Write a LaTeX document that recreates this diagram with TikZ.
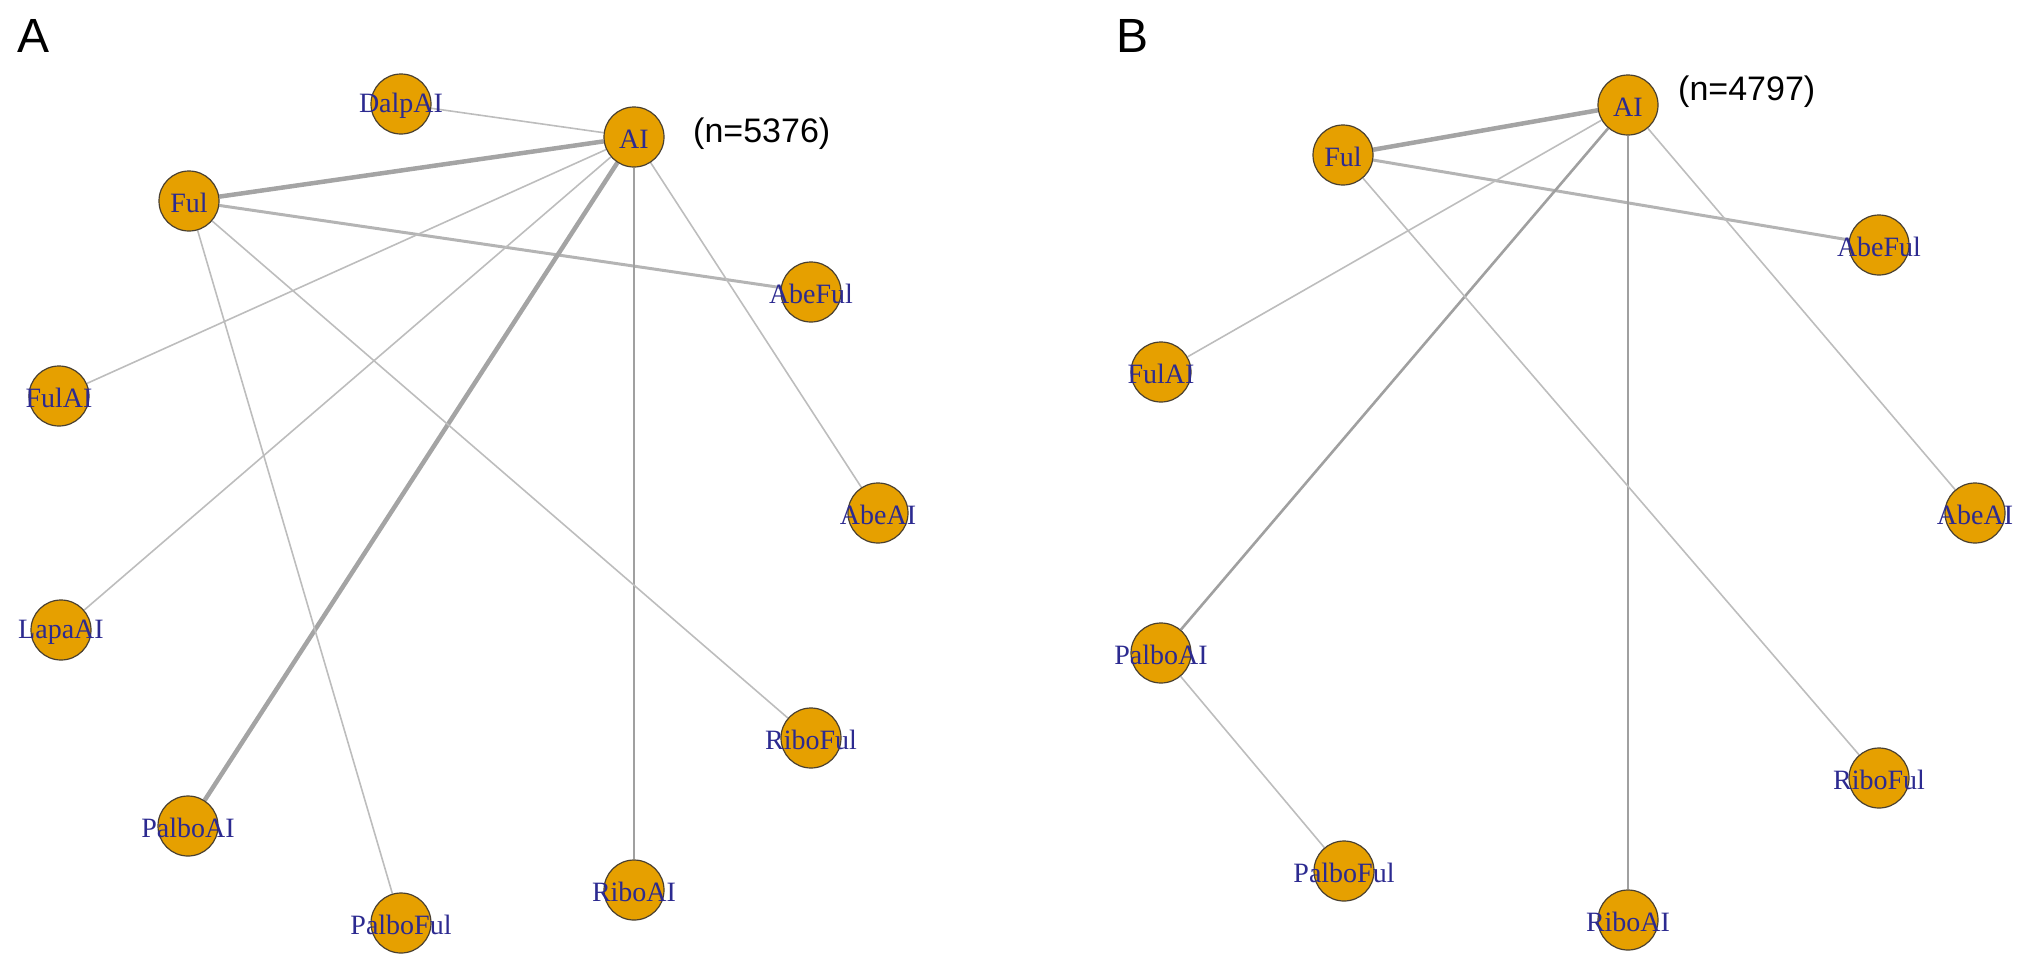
\documentclass[tikz,border=0pt]{standalone}
\usepackage{fontspec}
\setmainfont{Liberation Serif}
\newfontfamily\sansf{Liberation Sans}
\usetikzlibrary{backgrounds}
\definecolor{nodefill}{HTML}{E6A000}
\definecolor{nodeborder}{HTML}{4A4030}
\definecolor{labelblue}{HTML}{2C2A90}
\definecolor{edgethin}{HTML}{BDBDBD}
\definecolor{edgelight}{HTML}{B4B4B4}
\definecolor{edgemid}{HTML}{A0A0A0}
\definecolor{edgethick}{HTML}{A4A4A4}
\begin{document}
\begin{tikzpicture}[x=1pt,y=-1pt,
  vertex/.style={circle,fill=nodefill,draw=nodeborder,line width=1.2pt,minimum size=60pt,inner sep=0pt},
  vlabel/.style={text=labelblue,font=\fontsize{28}{30}\selectfont,inner sep=0pt,yshift=-2pt},
  thinedge/.style={draw=edgethin,line width=1.6pt},
  lightedge/.style={draw=edgelight,line width=3pt},
  midedge/.style={draw=edgemid,line width=2.6pt},
  thickedge/.style={draw=edgethick,line width=4.5pt},
  panel/.style={font=\sansf\fontsize{48}{50}\selectfont,inner sep=0pt},
  nlabel/.style={font=\sansf\fontsize{34}{36}\selectfont,inner sep=0pt,anchor=west}]
\useasboundingbox (0,0) rectangle (2032,967);

% ---------- Panel A ----------
\node[panel] (lA) at (34,36) {A};
\node[vertex] (aAI) at (634,137) {};
\node[vertex] (aDalpAI) at (401,104) {};
\node[vertex] (aFul) at (189,201) {};
\node[vertex] (aAbeFul) at (811,292) {};
\node[vertex] (aFulAI) at (59,396) {};
\node[vertex] (aLapaAI) at (61,630) {};
\node[vertex] (aAbeAI) at (878,513) {};
\node[vertex] (aRiboFul) at (811,738) {};
\node[vertex] (aPalboAI) at (188,826) {};
\node[vertex] (aRiboAI) at (634,890) {};
\node[vertex] (aPalboFul) at (401,923) {};
\node[nlabel] (nA) at (693,134) {(n=5376)};

\begin{scope}[on background layer]
\draw[thinedge] (aDalpAI) -- (aAI);
\draw[thickedge] (aFul) -- (aAI);
\draw[lightedge] (aFul) -- (aAbeFul);
\draw[thinedge] (aAI) -- (aFulAI);
\draw[thinedge] (aAI) -- (aLapaAI);
\draw[thickedge] (aAI) -- (aPalboAI);
\draw[midedge] (aAI) -- (aRiboAI);
\draw[thinedge] (aAI) -- (aAbeAI);
\draw[thinedge] (aFul) -- (aPalboFul);
\draw[thinedge] (aFul) -- (aRiboFul);
\end{scope}

\node[vlabel] (aAIl) at (aAI) {AI};
\node[vlabel] (aDalpAIl) at (aDalpAI) {DalpAI};
\node[vlabel] (aFull) at (aFul) {Ful};
\node[vlabel] (aAbeFull) at (aAbeFul) {AbeFul};
\node[vlabel] (aFulAIl) at (aFulAI) {FulAI};
\node[vlabel] (aLapaAIl) at (aLapaAI) {LapaAI};
\node[vlabel] (aAbeAIl) at (aAbeAI) {AbeAI};
\node[vlabel] (aRiboFull) at (aRiboFul) {RiboFul};
\node[vlabel] (aPalboAIl) at (aPalboAI) {PalboAI};
\node[vlabel] (aRiboAIl) at (aRiboAI) {RiboAI};
\node[vlabel] (aPalboFull) at (aPalboFul) {PalboFul};

% ---------- Panel B ----------
\node[panel] (lB) at (1132,36) {B};
\node[vertex] (bAI) at (1628,105) {};
\node[vertex] (bFul) at (1343,155) {};
\node[vertex] (bAbeFul) at (1879,245) {};
\node[vertex] (bFulAI) at (1161,372) {};
\node[vertex] (bAbeAI) at (1975,513) {};
\node[vertex] (bPalboAI) at (1161,653) {};
\node[vertex] (bRiboFul) at (1879,778) {};
\node[vertex] (bPalboFul) at (1344,871) {};
\node[vertex] (bRiboAI) at (1628,920) {};
\node[nlabel] (nB) at (1678,92) {(n=4797)};

\begin{scope}[on background layer]
\draw[thickedge] (bFul) -- (bAI);
\draw[lightedge] (bFul) -- (bAbeFul);
\draw[thinedge] (bAI) -- (bFulAI);
\draw[midedge] (bAI) -- (bPalboAI);
\draw[midedge] (bAI) -- (bRiboAI);
\draw[thinedge] (bAI) -- (bAbeAI);
\draw[thinedge] (bFul) -- (bRiboFul);
\draw[thinedge] (bPalboAI) -- (bPalboFul);
\end{scope}

\node[vlabel] (bAIl) at (bAI) {AI};
\node[vlabel] (bFull) at (bFul) {Ful};
\node[vlabel] (bAbeFull) at (bAbeFul) {AbeFul};
\node[vlabel] (bFulAIl) at (bFulAI) {FulAI};
\node[vlabel] (bAbeAIl) at (bAbeAI) {AbeAI};
\node[vlabel] (bPalboAIl) at (bPalboAI) {PalboAI};
\node[vlabel] (bRiboFull) at (bRiboFul) {RiboFul};
\node[vlabel] (bPalboFull) at (bPalboFul) {PalboFul};
\node[vlabel] (bRiboAIl) at (bRiboAI) {RiboAI};
\end{tikzpicture}
\end{document}
